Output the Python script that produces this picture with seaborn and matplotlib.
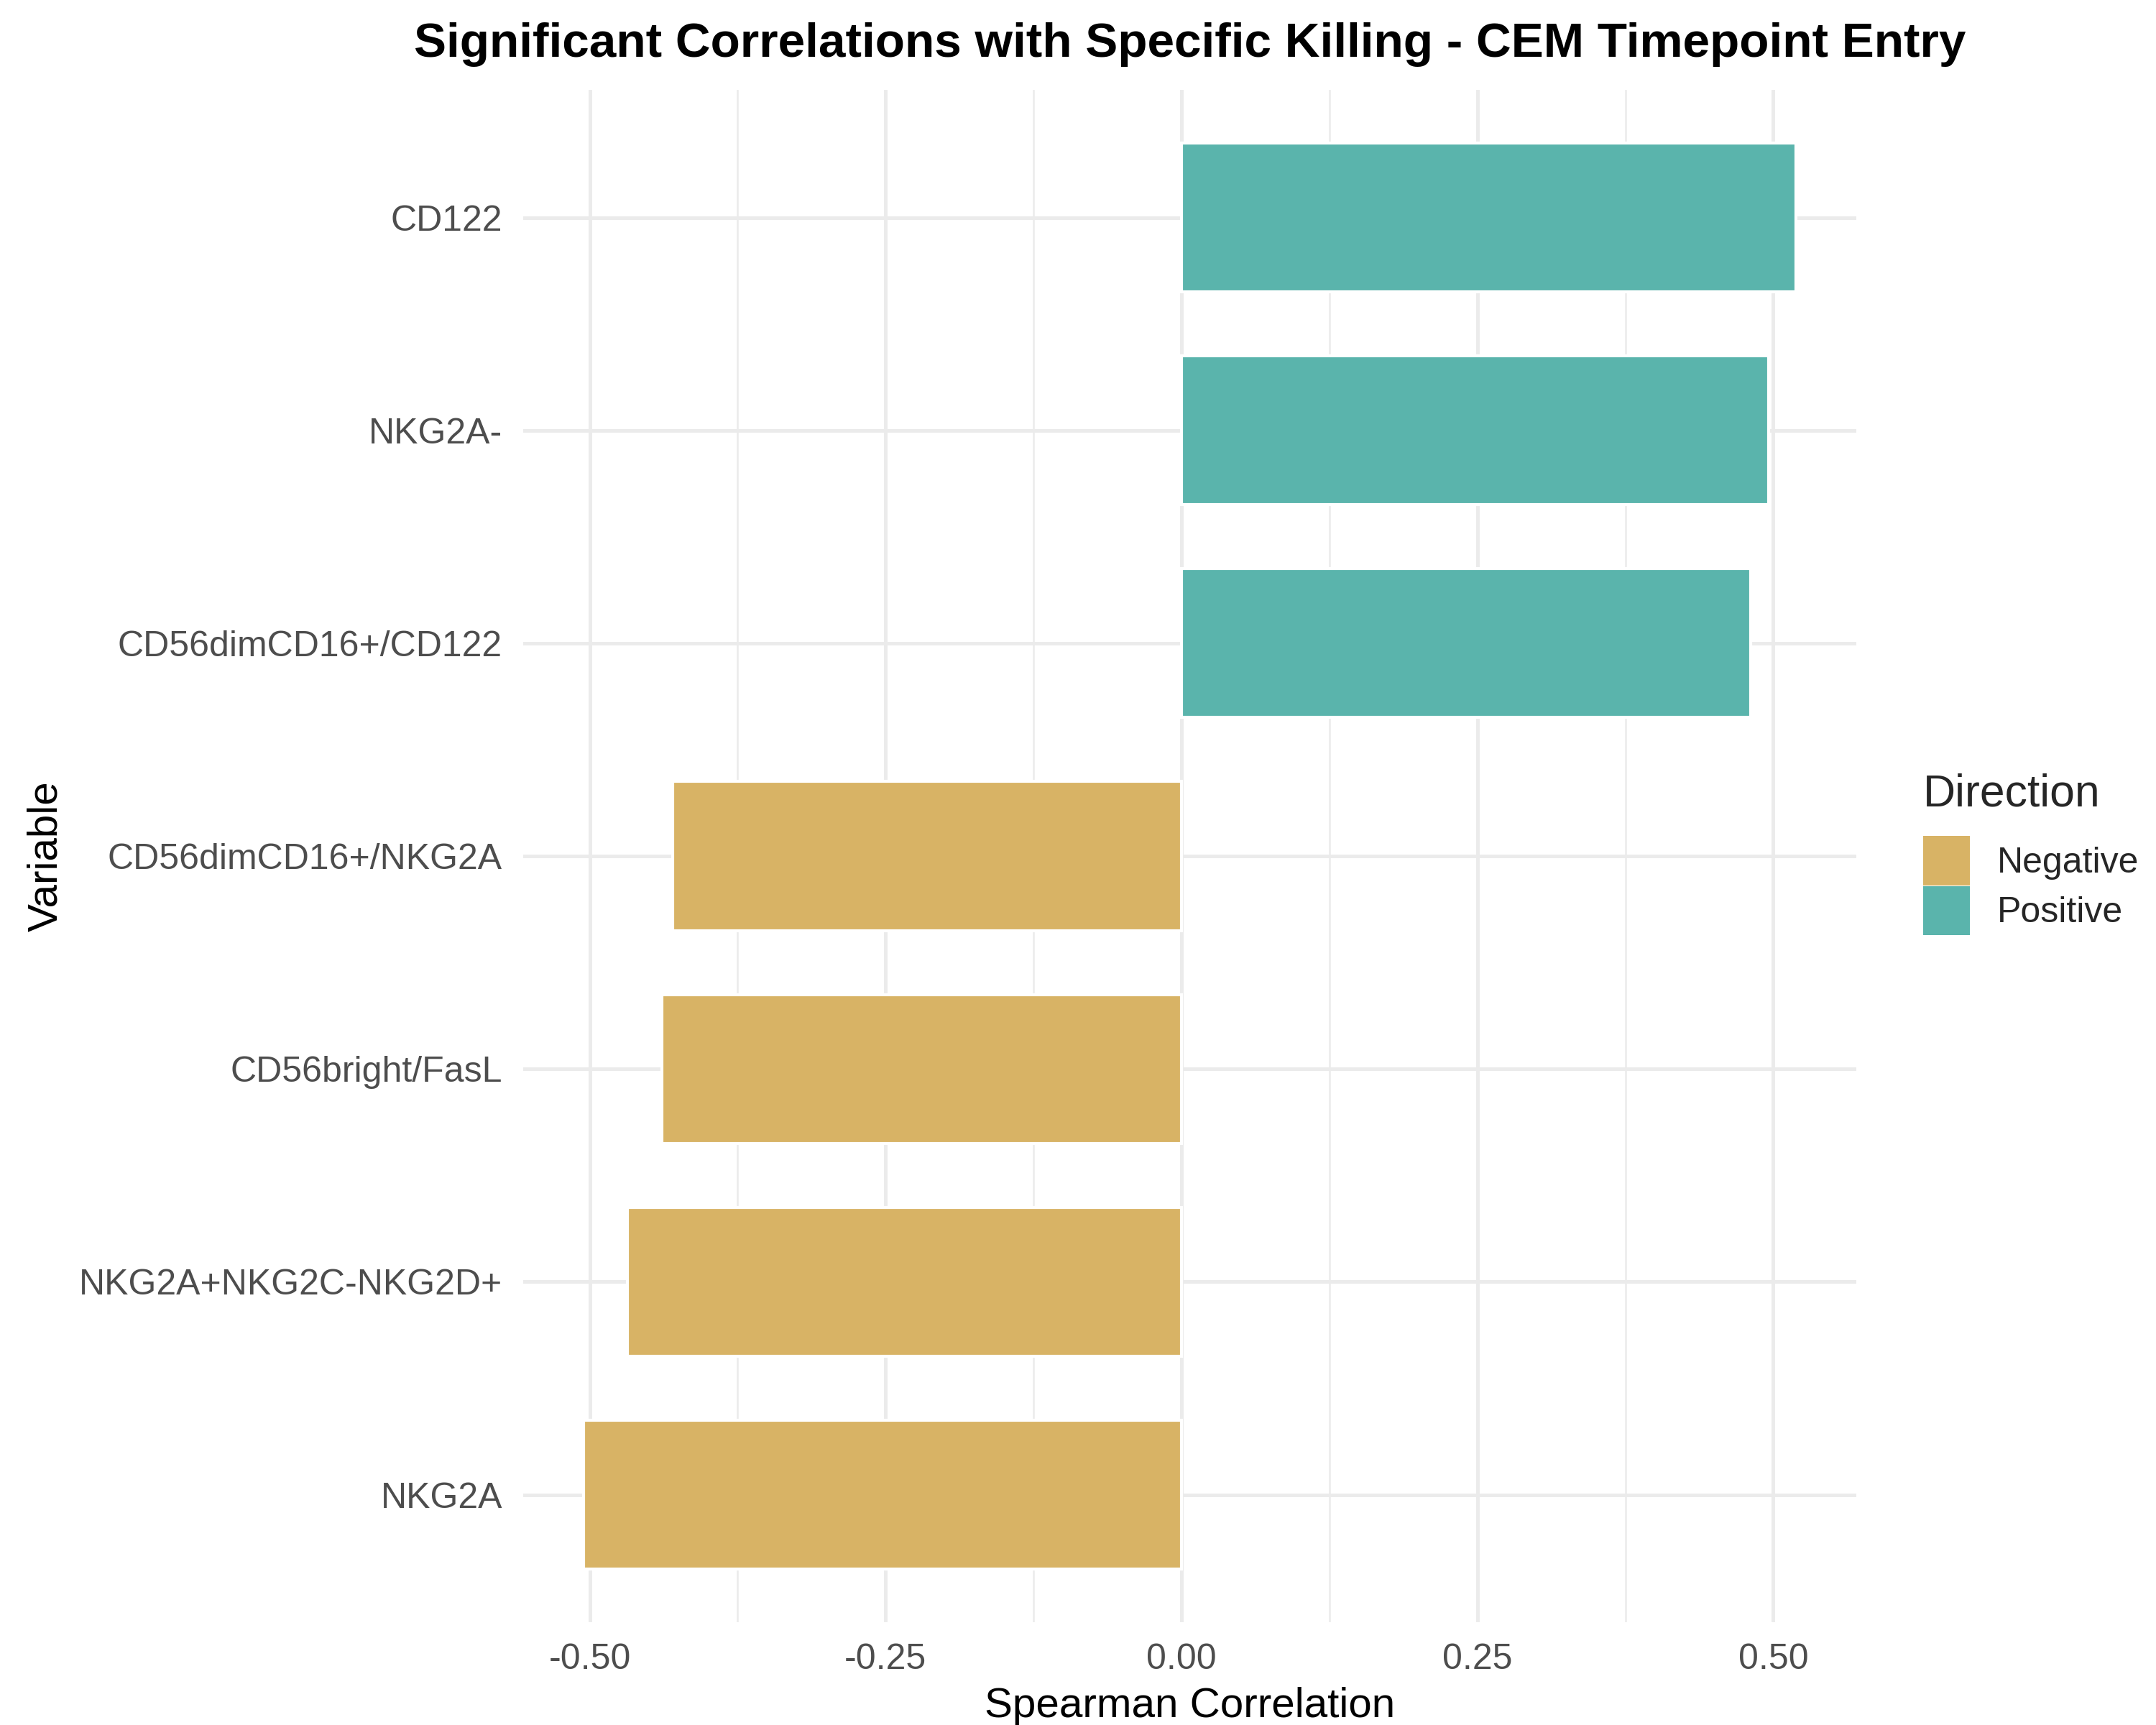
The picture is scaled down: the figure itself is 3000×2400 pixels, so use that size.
import matplotlib
matplotlib.use("Agg")
import matplotlib.pyplot as plt
from matplotlib.patches import Patch
from matplotlib.ticker import MultipleLocator
import seaborn as sns
import pandas as pd

variables = ["CD122", "NKG2A-", "CD56dimCD16+/CD122", "CD56dimCD16+/NKG2A",
             "CD56bright/FasL", "NKG2A+NKG2C-NKG2D+", "NKG2A"]
correlations = [0.519, 0.496, 0.481, -0.430, -0.439, -0.468, -0.505]
directions = ["Positive" if c > 0 else "Negative" for c in correlations]
palette = {"Negative": "#D8B365", "Positive": "#5AB4AC"}
xticks = [-0.50, -0.25, 0.00, 0.25, 0.50]

df = pd.DataFrame({"Variable": variables, "Correlation": correlations,
                   "Direction": directions})

sns.set_theme(style="white")
plt.rcParams['font.family'] = ['Liberation Sans', 'DejaVu Sans']

fig = plt.figure(figsize=(10, 8), dpi=300)
left, right, bottom, top = 0.2427, 0.861, 0.0595, 0.948
ax = fig.add_axes([left, bottom, right - left, top - bottom])

sns.barplot(data=df, x="Correlation", y="Variable", hue="Direction",
            order=variables, palette=palette, dodge=False, width=0.7,
            orient="h", ax=ax, legend=False, saturation=1, zorder=3)

xmin, xmax = min(correlations + [0]), max(correlations + [0])
pad = (xmax - xmin) * 0.05
ax.set_xlim(xmin - pad, xmax + pad)
ax.set_ylim(len(variables) - 1 + 0.6, -0.6)

ax.set_xticks(xticks)
ax.set_xticklabels([f"{t:.2f}" for t in xticks])
ax.xaxis.set_minor_locator(MultipleLocator(0.125))
ax.set_axisbelow(True)
ax.grid(which="major", axis="both", color="#EBEBEB", linewidth=1.2, zorder=0)
ax.grid(which="minor", axis="x", color="#EBEBEB", linewidth=0.6, zorder=0)
for s in ax.spines.values():
    s.set_visible(False)
ax.tick_params(axis="both", which="both", length=0, labelsize=12,
               labelcolor="#4D4D4D", pad=7)

ax.set_xlabel("")
ax.set_ylabel("")
cx = (left + right) / 2
cy = (top + bottom) / 2
fig.text(cx, 0.011, "Spearman Correlation", fontsize=14, color="black",
         ha="center", va="center")
fig.text(0.0214, cy, "Variable", fontsize=14, color="black", rotation=90,
         ha="center", va="center")
fig.text(cx, 0.974, "Significant Correlations with Specific Killing - CEM Timepoint Entry",
         fontsize=16.2, fontweight="bold", color="black", ha="center", va="center")

handles = [Patch(facecolor=palette[k], edgecolor="none", label=k)
           for k in ["Negative", "Positive"]]
leg = fig.legend(handles=handles, title="Direction", loc="upper left",
                 bbox_to_anchor=(0.892, 0.552), frameon=False, fontsize=12,
                 title_fontsize=15, handlelength=1.3, handleheight=1.72,
                 handletextpad=0.75, labelspacing=0.02, borderaxespad=0,
                 borderpad=0)
leg._legend_box.align = "left"
leg._legend_box.sep = 7

fig.savefig("out.png", dpi=300, facecolor="white")
